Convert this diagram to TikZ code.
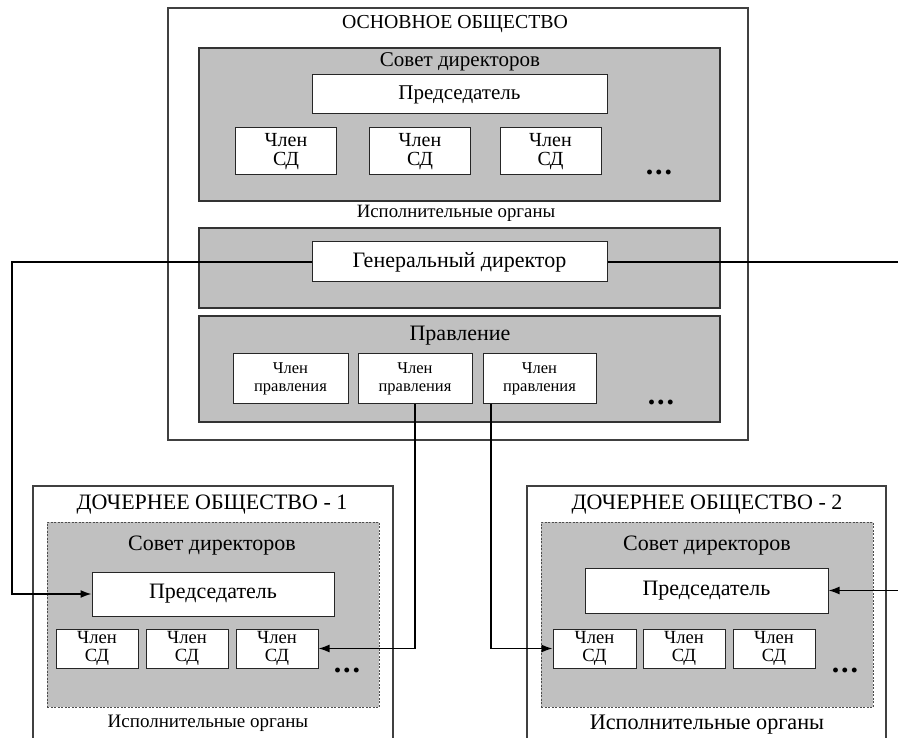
\documentclass[tikz,border=0pt]{standalone}
\usepackage{fontspec}
\setmainfont{Liberation Serif}
\usetikzlibrary{arrows.meta,calc}
\definecolor{boxgray}{HTML}{C0C0C0}
\newcommand{\mydots}{.\kern2pt.\kern2pt.}
\tikzset{
  x=1pt, y=-1pt,
  outerbox/.style={draw=black!75, line width=1.3pt, fill=white, inner sep=0pt},
  graybox/.style={draw=black!80, line width=1.3pt, fill=boxgray, inner sep=0pt},
  dgraybox/.style={draw=black!70, line width=0.9pt, dash pattern=on 2pt off 1.5pt, fill=boxgray, inner sep=0pt},
  wbox/.style={draw=black!85, line width=1pt, fill=white, inner sep=0pt, align=center},
  big/.style={font=\fontsize{22}{25}\selectfont},
  mid/.style={font=\fontsize{21}{24}\selectfont},
  sdtext/.style={font=\fontsize{20}{19}\selectfont},
  dsdtext/.style={font=\fontsize{18.6}{18.3}\selectfont},
  mptext/.style={font=\fontsize{16.5}{18.3}\selectfont},
  lbl/.style={inner sep=0pt, align=center},
  dots/.style={inner sep=0pt, font=\fontsize{30}{30}\selectfont\bfseries},
  conn/.style={draw=black, line width=1.5pt, -{Latex[length=11pt,width=8pt]}}
}
\begin{document}
\begin{tikzpicture}
\useasboundingbox (0,0) rectangle (898,738);
\clip (0,0) rectangle (898,738);

% ---------- main company ----------
\node[outerbox, minimum width=580pt, minimum height=432pt] (main) at (458,224) {};
\node[lbl, font=\fontsize{19.8}{22}\selectfont] (maintitle) at (455,24) {ОСНОВНОЕ ОБЩЕСТВО};

\node[graybox, minimum width=521pt, minimum height=153pt] (sd) at (459.5,124.5) {};
\node[lbl, mid] (sdt) at (460,62) {Совет директоров};
\node[wbox, mid, minimum width=295pt, minimum height=39pt] (pred) at (459.5,94.5) {Председатель};
\node[wbox, sdtext, minimum width=101pt, minimum height=47pt] (sda) at (286,151.5) {Член\\СД};
\node[wbox, sdtext, minimum width=101pt, minimum height=47pt] (sdb) at (420,151.5) {Член\\СД};
\node[wbox, sdtext, minimum width=101pt, minimum height=47pt] (sdc) at (550.5,151.5) {Член\\СД};
\node[dots] (sddots) at (659,172) {\mydots};

\node[lbl, font=\fontsize{18.8}{21}\selectfont] (exec) at (456,213) {Исполнительные органы};

\node[graybox, minimum width=521pt, minimum height=80pt] (gdbox) at (459.5,268) {};
\node[wbox, big, minimum width=295pt, minimum height=40pt] (gd) at (459.5,262) {Генеральный директор};

\node[graybox, minimum width=521pt, minimum height=106pt] (prav) at (459.5,369) {};
\node[lbl, big] (pravt) at (460,336) {Правление};
\node[wbox, mptext, minimum width=115pt, minimum height=50pt] (mpa) at (290.5,379) {Член\\правления};
\node[wbox, mptext, minimum width=114pt, minimum height=50pt] (mpb) at (415,379) {Член\\правления};
\node[wbox, mptext, minimum width=113pt, minimum height=50pt] (mpc) at (539.5,379) {Член\\правления};
\node[dots] (mpdots) at (661,402) {\mydots};

% ---------- subsidiary 1 ----------
\node[outerbox, minimum width=360pt, minimum height=290pt] (do1) at (213,631) {};
\node[lbl, big] (do1t) at (212,505) {ДОЧЕРНЕЕ ОБЩЕСТВО - 1};
\node[dgraybox, minimum width=332pt, minimum height=185pt] (do1sd) at (213,614.5) {};
\node[lbl, big] (do1sdt) at (212,546) {Совет директоров};
\node[wbox, big, minimum width=242pt, minimum height=44pt] (p1) at (213,594) {Председатель};
\node[wbox, dsdtext, minimum width=82pt, minimum height=39pt] (s11) at (97,648.5) {Член\\СД};
\node[wbox, dsdtext, minimum width=82pt, minimum height=39pt] (s12) at (187,648.5) {Член\\СД};
\node[wbox, dsdtext, minimum width=82pt, minimum height=39pt] (s13) at (277,648.5) {Член\\СД};
\node[dots] (do1dots) at (347,670) {\mydots};
\node[lbl, font=\fontsize{19}{21}\selectfont] (do1exec) at (208,723) {Исполнительные органы};

% ---------- subsidiary 2 ----------
\node[outerbox, minimum width=359pt, minimum height=290pt] (do2) at (706.5,631) {};
\node[lbl, big] (do2t) at (707,505) {ДОЧЕРНЕЕ ОБЩЕСТВО - 2};
\node[dgraybox, minimum width=332pt, minimum height=185pt] (do2sd) at (707,614.5) {};
\node[lbl, big] (do2sdt) at (707,546) {Совет директоров};
\node[wbox, big, minimum width=243pt, minimum height=45pt] (p2) at (706.5,590.5) {Председатель};
\node[wbox, dsdtext, minimum width=83pt, minimum height=39pt] (s21) at (594.5,648.5) {Член\\СД};
\node[wbox, dsdtext, minimum width=82pt, minimum height=39pt] (s22) at (684,648.5) {Член\\СД};
\node[wbox, dsdtext, minimum width=82pt, minimum height=39pt] (s23) at (774,648.5) {Член\\СД};
\node[dots] (do2dots) at (845,670) {\mydots};
\node[lbl, font=\fontsize{22.2}{25}\selectfont] (do2exec) at (707,725) {Исполнительные органы};

% ---------- connectors ----------
\coordinate (lc) at (12,0);
\coordinate (rc) at (910,0);
\coordinate (m3b) at (491,404);

\draw[conn] (gd.west) -| (lc |- p1.west) -- (p1.west);
\draw[conn] (gd.east) -| (rc |- p2.east) -- (p2.east);
\draw[conn] (mpb.south) |- (s13.east);
\draw[conn] (m3b) |- (s21.west);
\end{tikzpicture}
\end{document}
